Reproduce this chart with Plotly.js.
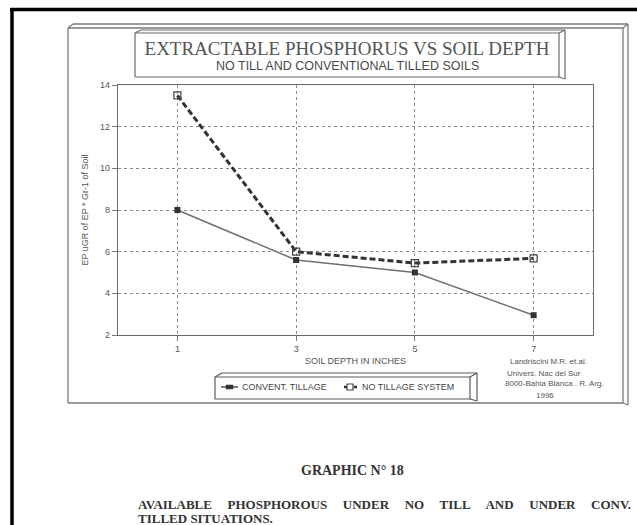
<!DOCTYPE html>
<html>
<head>
<meta charset="utf-8">
<script src="https://cdn.plot.ly/plotly-3.0.1.min.js"></script>
<style>html,body{margin:0;padding:0;background:#fff;}#chart{width:637px;height:525px;}</style>
</head>
<body>
<div id="chart"></div>
<script>
// ---- data ----
const depths = [1, 3, 5, 7];
const conventTillage = [8.0, 5.6, 5.0, 2.95];
const noTillage = [13.5, 6.0, 5.45, 5.68];
const seriesNames = ["CONVENT. TILLAGE", "NO TILLAGE SYSTEM"];
const yTicks = [2, 4, 6, 8, 10, 12, 14];
const xTicks = [1, 3, 5, 7];

// ---- layout helpers (pixel -> paper) ----
const W = 637, H = 525, L = 118, R = 44, T = 85, B = 190;
const PW = W - L - R, PH = H - T - B;
const px = x => (x - L) / PW;
const py = y => (H - B - y) / PH;
function seg(x0, y0, x1, y1, color, width, dash) {
  return {type: 'line', xref: 'paper', yref: 'paper', x0: px(x0), y0: py(y0), x1: px(x1), y1: py(y1),
          line: {color: color, width: width, dash: dash || 'solid'}, layer: 'above'};
}
function rect(x0, y0, x1, y1, fill, color, width) {
  return {type: 'rect', xref: 'paper', yref: 'paper', x0: px(x0), y0: py(y0), x1: px(x1), y1: py(y1),
          fillcolor: fill, line: {color: color, width: width}, layer: 'above'};
}
function box3d(x0, y0, x1, y1, dx, dy, color, w) {
  return [
    seg(x0, y0, x1, y0, color, w), seg(x1, y0, x1, y1, color, w),
    seg(x1, y1, x0, y1, color, w), seg(x0, y1, x0, y0, color, w),
    seg(x0, y0, x0 + dx, y0 - dy, color, w), seg(x0 + dx, y0 - dy, x1 + dx, y0 - dy, color, w),
    seg(x1, y0, x1 + dx, y0 - dy, color, w), seg(x1 + dx, y0 - dy, x1 + dx, y1 + 2, color, w),
    seg(x1, y1, x1 + dx, y1 + 2, color, w)
  ];
}

const shapes = [].concat(
  box3d(68, 28, 623, 403, 5, 4, '#7a7a7a', 1.3),
  box3d(135, 33, 559, 77, 6, 3, '#6a6a6a', 1.2),
  box3d(215, 377, 470, 399, 7, 4, '#5a5a5a', 1.2),
  [
    // legend samples
    seg(221, 387, 238, 387, '#555', 1.5),
    rect(226, 385, 233, 389, '#333', '#333', 0.5),
    seg(344, 387, 358, 387, '#333', 2.5, '3px,2px'),
    rect(347, 384, 353, 390, '#fff', '#444', 1.2),
    // page border
    seg(12, 8, 12, 525, '#000', 3.5),
    seg(10, 9.5, 637, 9.5, '#000', 3.5)
  ]
);

const sans = 'Liberation Sans, Arial, sans-serif';
const serif = 'Liberation Serif, Times New Roman, serif';
const txt = (text, x, y, size, opts) => Object.assign({
  text: text, xref: 'paper', yref: 'paper', x: px(x), y: py(y), xanchor: 'center', yanchor: 'middle',
  showarrow: false, font: {family: sans, size: size, color: '#555'}
}, opts || {});
const gap = '\u00a0\u00a0\u00a0\u2009 ';
const bodyWords = ['AVAILABLE', 'PHOSPHOROUS', 'UNDER', 'NO', 'TILL', 'AND', 'UNDER', 'CONV.'];

const annotations = [
  txt('NO TILL AND CONVENTIONAL TILLED SOILS', 347, 66, 12.5, {font: {family: sans, size: 12.5, color: '#4a4a4a'}}),
  txt(seriesNames[0], 240, 387, 9, {xanchor: 'left', font: {family: sans, size: 9, color: '#444'}}),
  txt(seriesNames[1], 360, 387, 9, {xanchor: 'left', font: {family: sans, size: 9, color: '#444'}}),
  txt('Landriscini M.R. et.al.', 508, 361, 8, {xanchor: 'left'}),
  txt('Univers. Nac del Sur', 505, 373, 8, {xanchor: 'left'}),
  txt('8000-Bahia Blanca . R. Arg.', 503, 383, 8, {xanchor: 'left'}),
  txt('1996', 545, 395, 8),
  txt('<b>GRAPHIC N° 18</b>', 352, 470, 14, {font: {family: serif, size: 14, color: '#333'}}),
  txt('<b>' + bodyWords.join(gap) + '</b>', 136, 504, 13, {xanchor: 'left', font: {family: serif, size: 13, color: '#333'}}),
  txt('<b>TILLED SITUATIONS.</b>', 136, 518, 13, {xanchor: 'left', font: {family: serif, size: 13, color: '#333'}})
];

const traces = [
  {x: depths, y: conventTillage, name: seriesNames[0], type: 'scatter', mode: 'lines+markers',
   line: {color: '#707070', width: 1.5}, marker: {symbol: 'square', size: 6, color: '#333'}},
  {x: depths, y: noTillage, name: seriesNames[1], type: 'scatter', mode: 'lines+markers',
   line: {color: '#333', width: 3, dash: '6px,3px'}, marker: {symbol: 'square-open', size: 7, color: '#444', line: {width: 1.2}}}
];

const axisFont = {family: sans, size: 9, color: '#555'};
const layout = {
  width: W, height: H,
  margin: {l: L, r: R, t: T, b: B},
  paper_bgcolor: '#fff', plot_bgcolor: '#fff',
  title: {text: 'EXTRACTABLE PHOSPHORUS VS SOIL DEPTH', x: 347 / W, xanchor: 'center', y: 1 - 48 / H, yanchor: 'middle',
          font: {family: serif, size: 19, color: '#555'}},
  xaxis: {range: [0, 8], tickvals: xTicks, ticktext: xTicks.map(String), ticks: 'outside', ticklen: 5, tickcolor: '#777',
          showgrid: true, gridcolor: '#8a8a8a', griddash: 'dot', gridwidth: 1, zeroline: false,
          showline: true, linecolor: '#6a6a6a', linewidth: 1.3, mirror: true, tickfont: axisFont,
          title: {text: 'SOIL DEPTH IN INCHES', font: axisFont, standoff: 4}},
  yaxis: {range: [2, 14], tickvals: yTicks, ticks: 'outside', ticklen: 5, tickcolor: '#777',
          showgrid: true, gridcolor: '#8a8a8a', griddash: 'dot', gridwidth: 1, zeroline: false,
          showline: true, linecolor: '#6a6a6a', linewidth: 1.3, mirror: true, tickfont: axisFont,
          title: {text: 'EP uGR of EP * Gr-1 of Soil', font: axisFont, standoff: 9}},
  showlegend: false,
  shapes: shapes,
  annotations: annotations
};

Plotly.newPlot('chart', traces, layout, {staticPlot: true, displayModeBar: false});
</script>
</body>
</html>
